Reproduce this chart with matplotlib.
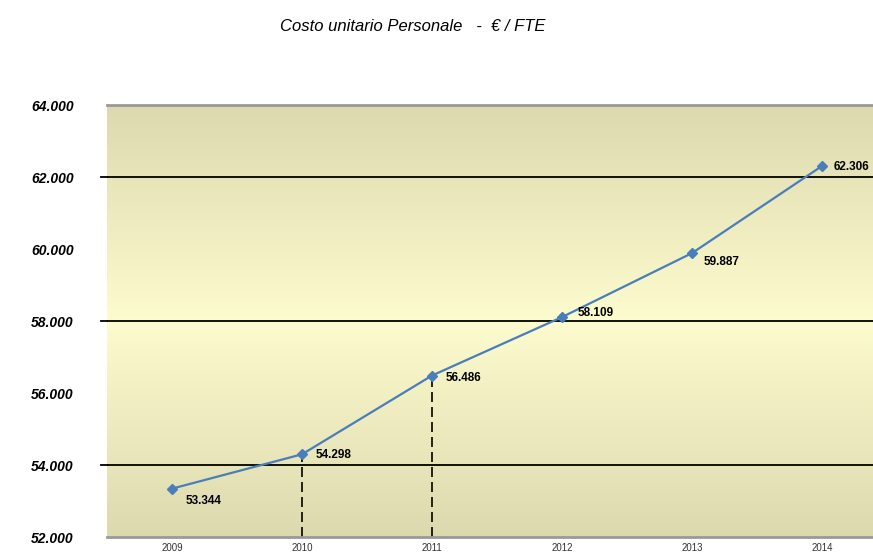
import numpy as np
import matplotlib.pyplot as plt

# data
anni = ['2009', '2010', '2011', '2012', '2013', '2014']
costo = [53344, 54298, 56486, 58109, 59887, 62306]
etichette = ['53.344', '54.298', '56.486', '58.109', '59.887', '62.306']
y_ticks = [52000, 54000, 56000, 58000, 60000, 62000, 64000]
y_labels = ['52.000', '54.000', '56.000', '58.000', '60.000', '62.000', '64.000']
grid_vals = [54000, 58000, 62000]
drop_idx = [1, 2]  # points with a dashed drop line

plt.rcParams['font.family'] = ['Liberation Sans', 'DejaVu Sans']

fig = plt.figure(figsize=(8.73, 5.55), dpi=100)
ax = fig.add_axes([0.1226, 0.0324, 0.8935, 0.7784])

x = np.arange(len(anni))
ax.set_xlim(-0.5, len(anni) - 0.5)
ax.set_ylim(52000, 64000)

# background gradient: darker at top/bottom, pale yellow in the middle
t = np.linspace(0, 1, 256)
w = 1 - np.abs(t - 0.5) * 2
top = np.array([220, 217, 174]) / 255
mid = np.array([253, 252, 206]) / 255
grad = top[None, :] * (1 - w[:, None]) + mid[None, :] * w[:, None]
ax.imshow(grad[:, None, :], extent=[-0.5, len(anni) - 0.5, 52000, 64000],
          aspect='auto', zorder=0, origin='lower')

for g in grid_vals:
    ax.axhline(g, color='black', lw=1.3, zorder=1)

for i in drop_idx:
    ax.vlines(x[i], 52000, costo[i], colors='black', linestyles=(0, (6, 3)),
              lw=1.2, zorder=1)

ax.plot(x, costo, color='#4a7ebb', lw=1.6, marker='D', ms=5,
        markerfacecolor='#4a7ebb', markeredgecolor='#4a7ebb', zorder=3)

offsets = [(14, -12), (14, -1), (14, -2), (16, 4), (12, -9), (12, -1)]
for xi, yi, lab, off in zip(x, costo, etichette, offsets):
    ax.annotate(lab, (xi, yi), xytext=off, textcoords='offset pixels',
                fontsize=8.5, fontweight='bold', va='center', ha='left',
                zorder=4, annotation_clip=False)

ax.set_yticks(y_ticks)
ax.set_yticklabels(y_labels, fontsize=10, fontweight='bold', style='italic')
ax.set_xticks(x)
ax.set_xticklabels(anni, fontsize=7, color='#333333')
ax.tick_params(axis='y', length=0, pad=24)
ax.tick_params(axis='x', length=0, pad=4)
for g in grid_vals:
    ax.plot([-0.55, -0.5], [g, g], color='black', lw=1.3, clip_on=False)

for side in ['left', 'right']:
    ax.spines[side].set_visible(False)
ax.spines['top'].set_color('#999999')
ax.spines['top'].set_linewidth(2)
ax.spines['bottom'].set_color('#999999')
ax.spines['bottom'].set_linewidth(2)

fig.text(0.473, 0.953, 'Costo unitario Personale   -  \u20ac / FTE', ha='center',
         va='center', fontsize=12, style='italic')

fig.savefig('out.png', dpi=100)
